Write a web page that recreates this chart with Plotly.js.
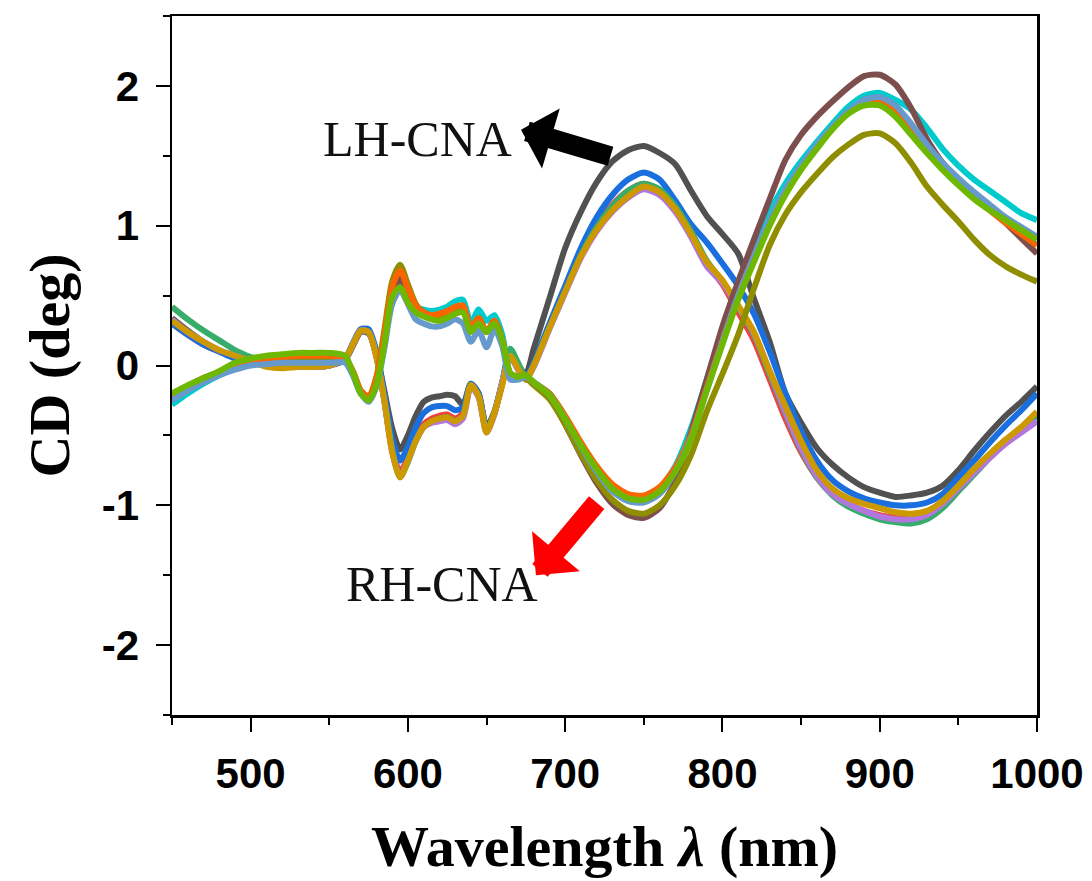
<!DOCTYPE html>
<html>
<head>
<meta charset="utf-8">
<script src="https://cdn.plot.ly/plotly-3.0.1.min.js"></script>
<style>
html,body{margin:0;padding:0;background:#fff;}
#chart{width:1092px;height:881px;}
</style>
</head>
<body>
<div id="chart"></div>
<script>
// Wavelength grid (nm)
const wavelength = [450,460,470,480,490,500,510,520,530,540,550,560,
  565,570,575,580,585,590,595,600,605,610,615,620,625,630,635,640,645,650,655,660,665,670,675,680,
  690,700,710,720,730,740,750,760,770,780,790,800,810,820,830,840,850,860,870,880,890,900,910,920,930,940,950,960,970,980,990,1000];

// Y tick labels (hyphen minus as in the original)
const yTickVals = [-2, -1, 0, 1, 2];
const yTickText = ['-2', '-1', '0', '1', '2'];

// LH-CNA group (positive band near 750 nm)
const lhGray = [0.34,0.25,0.17,0.11,0.06,0.03,0.0,-0.01,-0.01,-0.01,0.0,0.04,
  0.14,0.24,0.23,0.08,-0.18,-0.45,-0.6,-0.5,-0.36,-0.26,-0.23,-0.22,-0.21,-0.22,-0.28,-0.13,-0.2,-0.44,-0.33,-0.12,0.1,0.0,-0.06,0.12,
  0.48,0.84,1.1,1.31,1.46,1.54,1.57,1.52,1.44,1.25,1.07,0.94,0.8,0.48,0.17,-0.2,-0.41,-0.59,-0.71,-0.8,-0.87,-0.91,-0.94,-0.93,-0.91,-0.86,-0.75,-0.61,-0.48,-0.36,-0.26,-0.15];
const lhRed = [0.3,0.22,0.15,0.1,0.06,0.03,0.0,-0.01,-0.01,-0.01,0.0,0.05,
  0.15,0.25,0.24,0.06,-0.25,-0.6,-0.76,-0.66,-0.5,-0.42,-0.38,-0.36,-0.35,-0.38,-0.34,-0.14,-0.22,-0.46,-0.34,-0.13,0.08,-0.02,-0.1,0.0,
  0.28,0.55,0.8,1.0,1.15,1.25,1.3,1.25,1.12,0.94,0.73,0.58,0.38,0.18,-0.1,-0.38,-0.62,-0.8,-0.92,-0.99,-1.04,-1.07,-1.09,-1.1,-1.08,-1.0,-0.88,-0.76,-0.64,-0.54,-0.45,-0.35];
const lhBlue = [0.3,0.22,0.15,0.1,0.05,0.02,0.0,-0.01,-0.01,-0.01,0.0,0.05,
  0.16,0.26,0.26,0.1,-0.2,-0.52,-0.68,-0.58,-0.44,-0.34,-0.3,-0.29,-0.29,-0.32,-0.3,-0.13,-0.2,-0.45,-0.34,-0.12,0.09,-0.01,-0.08,0.02,
  0.3,0.57,0.84,1.06,1.22,1.33,1.38,1.33,1.18,1.01,0.88,0.73,0.57,0.37,0.1,-0.2,-0.47,-0.68,-0.82,-0.9,-0.95,-0.98,-1.0,-1.0,-0.98,-0.92,-0.8,-0.68,-0.55,-0.43,-0.32,-0.2];
const lhGreen = [0.42,0.33,0.25,0.18,0.11,0.06,0.02,0.0,-0.01,-0.01,0.0,0.05,
  0.15,0.25,0.24,0.07,-0.24,-0.6,-0.8,-0.69,-0.54,-0.44,-0.4,-0.38,-0.37,-0.4,-0.36,-0.14,-0.22,-0.46,-0.34,-0.12,0.12,0.02,-0.08,0.0,
  0.27,0.53,0.79,0.99,1.14,1.25,1.3,1.26,1.14,0.96,0.75,0.6,0.42,0.22,-0.06,-0.34,-0.6,-0.8,-0.93,-1.01,-1.06,-1.1,-1.12,-1.13,-1.1,-1.02,-0.9,-0.78,-0.66,-0.55,-0.46,-0.36];
const lhPurple = [0.33,0.24,0.17,0.11,0.07,0.03,0.0,-0.01,-0.01,-0.01,0.0,0.05,
  0.15,0.25,0.24,0.06,-0.25,-0.62,-0.79,-0.68,-0.54,-0.44,-0.41,-0.4,-0.39,-0.42,-0.38,-0.15,-0.23,-0.48,-0.35,-0.12,0.06,-0.03,-0.1,-0.01,
  0.26,0.52,0.77,0.96,1.1,1.2,1.26,1.22,1.1,0.92,0.71,0.59,0.42,0.23,-0.04,-0.33,-0.59,-0.79,-0.92,-0.99,-1.04,-1.08,-1.1,-1.1,-1.07,-0.99,-0.88,-0.77,-0.66,-0.56,-0.48,-0.4];
const lhGold = [0.32,0.24,0.17,0.11,0.07,0.03,-0.01,-0.02,-0.01,-0.01,0.0,0.05,
  0.15,0.25,0.24,0.06,-0.25,-0.62,-0.8,-0.68,-0.54,-0.44,-0.4,-0.38,-0.37,-0.4,-0.36,-0.14,-0.22,-0.48,-0.34,-0.14,0.07,-0.02,-0.1,0.0,
  0.27,0.53,0.78,0.97,1.11,1.21,1.28,1.24,1.12,0.94,0.74,0.61,0.43,0.24,-0.04,-0.29,-0.54,-0.75,-0.88,-0.95,-0.99,-1.02,-1.05,-1.06,-1.04,-0.97,-0.86,-0.74,-0.63,-0.53,-0.44,-0.33];

// RH-CNA group (negative band near 750 nm)
const rhCyan = [-0.28,-0.2,-0.13,-0.07,-0.02,0.02,0.05,0.06,0.07,0.07,0.07,0.05,
  -0.06,-0.2,-0.24,-0.12,0.17,0.5,0.6,0.5,0.42,0.4,0.39,0.4,0.42,0.46,0.47,0.3,0.4,0.32,0.36,0.22,-0.06,-0.1,-0.08,-0.12,
  -0.2,-0.37,-0.56,-0.73,-0.86,-0.93,-0.95,-0.88,-0.72,-0.45,-0.1,0.25,0.58,0.86,1.1,1.3,1.46,1.6,1.73,1.85,1.93,1.95,1.9,1.83,1.7,1.55,1.43,1.33,1.25,1.17,1.09,1.04];
const rhBrown = [-0.22,-0.15,-0.09,-0.05,0.0,0.03,0.05,0.06,0.07,0.07,0.07,0.05,
  -0.05,-0.19,-0.23,-0.12,0.17,0.5,0.62,0.52,0.4,0.36,0.34,0.34,0.36,0.39,0.4,0.26,0.32,0.24,0.3,0.18,-0.06,-0.08,-0.08,-0.13,
  -0.22,-0.42,-0.64,-0.84,-0.99,-1.07,-1.09,-1.02,-0.83,-0.48,-0.1,0.28,0.6,0.9,1.19,1.47,1.65,1.78,1.89,1.99,2.07,2.08,2.01,1.84,1.62,1.45,1.33,1.23,1.13,1.02,0.91,0.8];
const rhOlive = [-0.24,-0.17,-0.11,-0.06,-0.01,0.02,0.04,0.05,0.06,0.06,0.06,0.04,
  -0.04,-0.18,-0.22,-0.08,0.25,0.6,0.72,0.58,0.44,0.38,0.36,0.36,0.38,0.41,0.42,0.27,0.34,0.24,0.32,0.18,-0.08,-0.09,-0.09,-0.14,
  -0.24,-0.42,-0.63,-0.82,-0.96,-1.04,-1.06,-1.0,-0.86,-0.64,-0.33,-0.06,0.22,0.55,0.86,1.08,1.24,1.37,1.49,1.58,1.65,1.66,1.59,1.45,1.28,1.15,1.03,0.9,0.79,0.71,0.65,0.6];
const rhOrange = [-0.22,-0.15,-0.09,-0.05,0.0,0.03,0.05,0.06,0.07,0.07,0.07,0.05,
  -0.04,-0.18,-0.22,-0.09,0.22,0.56,0.68,0.55,0.43,0.38,0.36,0.37,0.39,0.42,0.43,0.27,0.34,0.24,0.32,0.18,-0.07,-0.09,-0.08,-0.12,
  -0.2,-0.36,-0.55,-0.72,-0.85,-0.92,-0.93,-0.87,-0.73,-0.5,-0.16,0.18,0.5,0.78,1.03,1.24,1.42,1.57,1.7,1.81,1.88,1.89,1.82,1.69,1.55,1.42,1.31,1.2,1.11,1.02,0.94,0.86];
const rhSteel = [-0.25,-0.18,-0.12,-0.07,-0.03,0.0,0.01,0.02,0.02,0.02,0.02,0.02,
  -0.07,-0.2,-0.26,-0.15,0.12,0.44,0.54,0.44,0.33,0.3,0.28,0.28,0.3,0.33,0.3,0.17,0.25,0.13,0.26,0.14,-0.1,-0.1,-0.08,-0.12,
  -0.21,-0.38,-0.58,-0.76,-0.9,-0.97,-0.98,-0.92,-0.76,-0.52,-0.18,0.17,0.5,0.78,1.04,1.26,1.43,1.58,1.71,1.82,1.9,1.92,1.86,1.73,1.58,1.45,1.34,1.24,1.15,1.06,0.99,0.92];
const rhLime = [-0.2,-0.14,-0.09,-0.04,0.02,0.05,0.07,0.08,0.09,0.09,0.09,0.07,
  -0.05,-0.2,-0.25,-0.14,0.15,0.49,0.56,0.45,0.38,0.35,0.33,0.32,0.34,0.37,0.38,0.24,0.3,0.24,0.3,0.18,-0.05,-0.08,-0.07,-0.12,
  -0.21,-0.38,-0.57,-0.74,-0.88,-0.95,-0.96,-0.9,-0.76,-0.53,-0.18,0.15,0.47,0.74,1.0,1.22,1.4,1.55,1.69,1.8,1.86,1.86,1.78,1.65,1.52,1.4,1.29,1.19,1.11,1.04,0.97,0.9];

const seriesList = [
  {y: lhGray,   color: '#515151'},
  {y: lhRed,    color: '#F14040'},
  {y: lhBlue,   color: '#1A6FDF'},
  {y: lhGreen,  color: '#37AD6B'},
  {y: lhPurple, color: '#B177DE'},
  {y: lhGold,   color: '#CC9900'},
  {y: rhCyan,   color: '#00CBCC'},
  {y: rhBrown,  color: '#7D4E4E'},
  {y: rhOlive,  color: '#8E8E00'},
  {y: rhOrange, color: '#FB6501'},
  {y: rhSteel,  color: '#6699CC'},
  {y: rhLime,   color: '#6FB802'}
];

const traces = seriesList.map(s => ({
  x: wavelength, y: s.y, type: 'scatter', mode: 'lines',
  line: {color: s.color, width: 6, shape: 'spline', smoothing: 0.7},
  showlegend: false, hoverinfo: 'skip'
}));

const tickFont = {family: 'Liberation Sans, Arial, sans-serif', size: 42, color: '#000', weight: 'bold'};
const titleFont = {family: 'Liberation Serif, Times New Roman, serif', size: 58, color: '#000', weight: 'bold'};
const labelFont = {family: 'Liberation Serif, Times New Roman, serif', size: 50, color: '#111'};

const layout = {
  width: 1092, height: 881,
  margin: {l: 172, r: 55, t: 16, b: 166},
  paper_bgcolor: '#fff', plot_bgcolor: '#fff',
  showlegend: false,
  xaxis: {
    range: [450, 1000], tick0: 0, dtick: 100,
    showgrid: false, zeroline: false,
    showline: true, linecolor: '#000', linewidth: 2.5, mirror: true,
    ticks: 'outside', ticklen: 14, tickwidth: 2, tickcolor: '#000',
    minor: {dtick: 50, tick0: 0, ticks: 'outside', ticklen: 7, tickwidth: 2, tickcolor: '#000', showgrid: false},
    tickfont: tickFont, ticklabelstandoff: 6,
    title: {text: 'Wavelength <i>λ</i> (nm)', font: titleFont, standoff: 30}
  },
  yaxis: {
    range: [-2.5, 2.5], tickmode: 'array', tickvals: yTickVals, ticktext: yTickText,
    showgrid: false, zeroline: false,
    showline: true, linecolor: '#000', linewidth: 2.5, mirror: true,
    ticks: 'outside', ticklen: 14, tickwidth: 2, tickcolor: '#000',
    minor: {dtick: 0.5, tick0: 0, ticks: 'outside', ticklen: 7, tickwidth: 2, tickcolor: '#000', showgrid: false},
    tickfont: tickFont, ticklabelstandoff: 8,
    title: {text: 'CD (deg)', font: titleFont, standoff: 14}
  },
  annotations: [
    {x: 605.8, y: 1.62, xref: 'x', yref: 'y', text: 'LH-CNA', showarrow: false, font: labelFont},
    {x: 621.6, y: -1.565, xref: 'x', yref: 'y', text: 'RH-CNA', showarrow: false, font: labelFont},
    {x: 671.9, y: 1.687, xref: 'x', yref: 'y', text: '', showarrow: true, arrowhead: 1, arrowwidth: 20, arrowsize: 0.52, arrowcolor: '#000', ax: 91, ay: 27, standoff: 0},
    {x: 681.4, y: -1.50, xref: 'x', yref: 'y', text: '', showarrow: true, arrowhead: 1, arrowwidth: 20, arrowsize: 0.52, arrowcolor: '#ff0000', ax: 62, ay: -74, standoff: 0}
  ]
};

Plotly.newPlot('chart', traces, layout, {displayModeBar: false, staticPlot: true});
</script>
</body>
</html>
